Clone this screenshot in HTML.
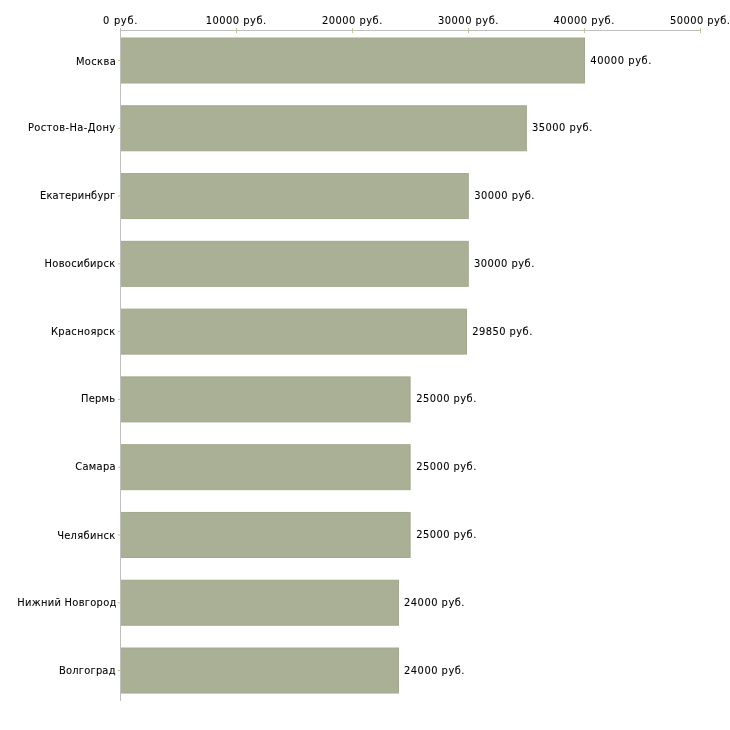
<!DOCTYPE html><html><head><meta charset="utf-8"><style>html,body{margin:0;padding:0;background:#fff;width:730px;height:730px;overflow:hidden}svg{display:block;will-change:transform}text{font-family:"DejaVu Sans Condensed","DejaVu Sans",sans-serif;font-stretch:condensed;font-size:11px;fill:#000;stroke:#000;stroke-width:0.08px}</style></head><body>
<svg width="730" height="730" viewBox="0 0 730 730">
<rect x="120.50" y="38.00" width="464.00" height="45.00" fill="#aab096" stroke="#a2a98c" stroke-width="1"/>
<rect x="120.50" y="105.78" width="405.88" height="45.00" fill="#aab096" stroke="#a2a98c" stroke-width="1"/>
<rect x="120.50" y="173.56" width="347.75" height="45.00" fill="#aab096" stroke="#a2a98c" stroke-width="1"/>
<rect x="120.50" y="241.34" width="347.75" height="45.00" fill="#aab096" stroke="#a2a98c" stroke-width="1"/>
<rect x="120.50" y="309.12" width="346.01" height="45.00" fill="#aab096" stroke="#a2a98c" stroke-width="1"/>
<rect x="120.50" y="376.90" width="289.62" height="45.00" fill="#aab096" stroke="#a2a98c" stroke-width="1"/>
<rect x="120.50" y="444.68" width="289.62" height="45.00" fill="#aab096" stroke="#a2a98c" stroke-width="1"/>
<rect x="120.50" y="512.46" width="289.62" height="45.00" fill="#aab096" stroke="#a2a98c" stroke-width="1"/>
<rect x="120.50" y="580.24" width="278.00" height="45.00" fill="#aab096" stroke="#a2a98c" stroke-width="1"/>
<rect x="120.50" y="648.02" width="278.00" height="45.00" fill="#aab096" stroke="#a2a98c" stroke-width="1"/>
<rect x="120" y="30" width="581" height="1" fill="#bfbfbf"/>
<rect x="120.0" y="28" width="1" height="5" fill="#c4c498"/>
<rect x="236.0" y="28" width="1" height="5" fill="#c4c498"/>
<rect x="352.0" y="28" width="1" height="5" fill="#c4c498"/>
<rect x="468.0" y="28" width="1" height="5" fill="#c4c498"/>
<rect x="584.0" y="28" width="1" height="5" fill="#c4c498"/>
<rect x="700.0" y="28" width="1" height="5" fill="#c4c498"/>
<rect x="120" y="30" width="1" height="671" fill="#bfbfbf"/>
<rect x="118" y="60.00" width="3" height="1" fill="#c4c498"/>
<rect x="118" y="127.78" width="3" height="1" fill="#c4c498"/>
<rect x="118" y="195.56" width="3" height="1" fill="#c4c498"/>
<rect x="118" y="263.34" width="3" height="1" fill="#c4c498"/>
<rect x="118" y="331.12" width="3" height="1" fill="#c4c498"/>
<rect x="118" y="398.90" width="3" height="1" fill="#c4c498"/>
<rect x="118" y="466.68" width="3" height="1" fill="#c4c498"/>
<rect x="118" y="534.46" width="3" height="1" fill="#c4c498"/>
<rect x="118" y="602.24" width="3" height="1" fill="#c4c498"/>
<rect x="118" y="670.02" width="3" height="1" fill="#c4c498"/>
<text x="75.93" y="65" textLength="39.83" lengthAdjust="spacing">Москва</text>
<text x="27.90" y="131" textLength="87.25" lengthAdjust="spacing">Ростов-На-Дону</text>
<text x="39.91" y="199" textLength="75.32" lengthAdjust="spacing">Екатеринбург</text>
<text x="44.50" y="267" textLength="70.66" lengthAdjust="spacing">Новосибирск</text>
<text x="50.90" y="335" textLength="64.26" lengthAdjust="spacing">Красноярск</text>
<text x="81.12" y="402" textLength="33.97" lengthAdjust="spacing">Пермь</text>
<text x="75.20" y="470" textLength="40.41" lengthAdjust="spacing">Самара</text>
<text x="57.13" y="539" textLength="58.03" lengthAdjust="spacing">Челябинск</text>
<text x="17.29" y="606" textLength="99.10" lengthAdjust="spacing">Нижний Новгород</text>
<text x="59.11" y="674" textLength="56.37" lengthAdjust="spacing">Волгоград</text>
<text x="590.29" y="64" textLength="61.12" lengthAdjust="spacing">40000 руб.</text>
<text x="531.93" y="131" textLength="60.38" lengthAdjust="spacing">35000 руб.</text>
<text x="474.21" y="199" textLength="60.28" lengthAdjust="spacing">30000 руб.</text>
<text x="474.01" y="267" textLength="60.30" lengthAdjust="spacing">30000 руб.</text>
<text x="472.22" y="335" textLength="60.09" lengthAdjust="spacing">29850 руб.</text>
<text x="416.22" y="402" textLength="60.09" lengthAdjust="spacing">25000 руб.</text>
<text x="416.22" y="470" textLength="60.09" lengthAdjust="spacing">25000 руб.</text>
<text x="416.22" y="538" textLength="60.09" lengthAdjust="spacing">25000 руб.</text>
<text x="404.05" y="606" textLength="60.44" lengthAdjust="spacing">24000 руб.</text>
<text x="404.05" y="674" textLength="60.44" lengthAdjust="spacing">24000 руб.</text>
<text x="103.10" y="24" textLength="34.22" lengthAdjust="spacing">0 руб.</text>
<text x="205.70" y="24" textLength="60.52" lengthAdjust="spacing">10000 руб.</text>
<text x="322.05" y="24" textLength="60.26" lengthAdjust="spacing">20000 руб.</text>
<text x="438.01" y="24" textLength="60.40" lengthAdjust="spacing">30000 руб.</text>
<text x="553.45" y="24" textLength="60.96" lengthAdjust="spacing">40000 руб.</text>
<text x="669.88" y="24" textLength="60.14" lengthAdjust="spacing">50000 руб.</text>
</svg></body></html>
